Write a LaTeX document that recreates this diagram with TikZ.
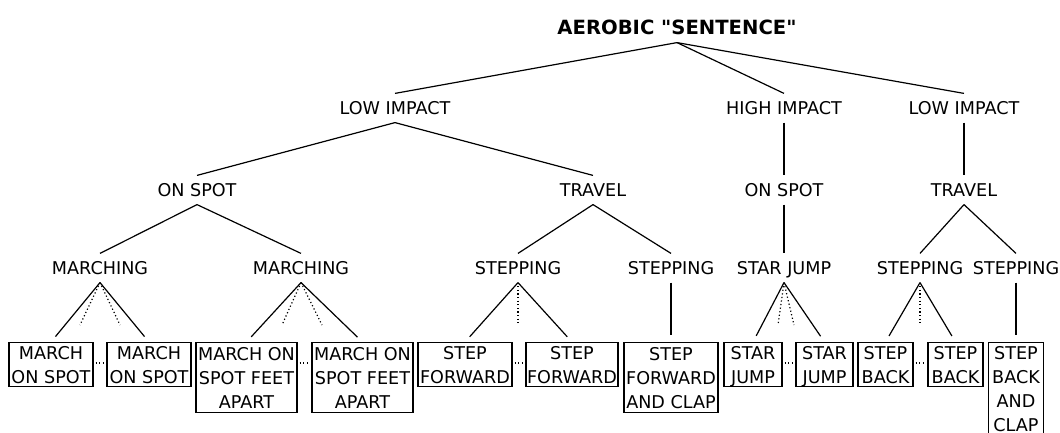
\documentclass[tikz,border=0pt]{standalone}
\usepackage{fontspec}
\setmainfont{DejaVu Sans}[Ligatures=TeXOff]

\begin{document}
\begin{tikzpicture}[x=0.5pt, y=-0.5pt, line width=0.6pt,
    head/.style={font=\fontsize{9.8}{12}\selectfont\bfseries, inner sep=0pt, minimum height=15pt},
    lbl/.style={font=\fontsize{8.8}{12}\selectfont, inner sep=0pt, text height=6.4pt, text depth=0pt, minimum height=14pt},
    leaf/.style={draw, anchor=north, align=center, font=\fontsize{8.8}{12}\selectfont, inner sep=0pt, minimum height=22pt, minimum width=#1},
    more/.style={dash pattern=on 0.6pt off 1.2pt},
    tobox/.style={shorten >=3.5pt},
    gap/.style={dash pattern=on 0.6pt off 1.2pt, shorten >=1pt, shorten <=1pt}]
    \useasboundingbox (0,0) rectangle (1060,433);

    % Title
    \node[head] (aero) at (677,27) {AEROBIC "SENTENCE"};

    % Impact
    \node[lbl] (lowA) at (395,108) {LOW IMPACT};
    \node[lbl] (high) at (784,108) {HIGH IMPACT};
    \node[lbl] (lowB) at (964,108) {LOW IMPACT};
    \draw (aero.south) -- (lowA.north);
    \draw (aero.south) -- (high.north);
    \draw (aero.south) -- (lowB.north);

    % On spot / travel
    \node[lbl] (spotA) at (197,190) {ON SPOT};
    \node[lbl] (travA) at (593,190) {TRAVEL};
    \node[lbl] (spotB) at (784,190) {ON SPOT};
    \node[lbl] (travB) at (964,190) {TRAVEL};
    \draw (lowA.south) -- (spotA.north);
    \draw (lowA.south) -- (travA.north);
    \draw (high.south) -- (spotB.north);
    \draw (lowB.south) -- (travB.north);

    % Moves
    \node[lbl] (marA) at (100,268) {MARCHING};
    \node[lbl] (marB) at (301,268) {MARCHING};
    \node[lbl] (stpA) at (518,268) {STEPPING};
    \node[lbl] (stpB) at (671,268) {STEPPING};
    \node[lbl] (jump) at (784,268) {STAR JUMP};
    \node[lbl] (stpC) at (920,268) {STEPPING};
    \node[lbl] (stpD) at (1016,268) {STEPPING};
    \draw (spotA.south) -- (marA.north);
    \draw (spotA.south) -- (marB.north);
    \draw (travA.south) -- (stpA.north);
    \draw (travA.south) -- (stpB.north);
    \draw (spotB.south) -- (jump.north);
    \draw (travB.south) -- (stpC.north);
    \draw (travB.south) -- (stpD.north);

    % Steps
    \node[leaf=42pt] (mosA) at (51,342) {MARCH\\ON SPOT};
    \node[leaf=42pt] (mosB) at (149,342) {MARCH\\ON SPOT};
    \node[leaf=50.5pt, minimum height=35pt] (mfaA) at (246.5,342) {MARCH ON\\SPOT FEET\\APART};
    \node[leaf=50.5pt, minimum height=35pt] (mfaB) at (362.5,342) {MARCH ON\\SPOT FEET\\APART};
    \node[leaf=47pt] (sfA) at (465,342) {STEP\\FORWARD};
    \node[leaf=46pt] (sfB) at (572,342) {STEP\\FORWARD};
    \node[leaf=47pt, minimum height=35pt] (sfc) at (671,342) {STEP\\FORWARD\\AND CLAP};
    \node[leaf=29pt] (sjA) at (753,342) {STAR\\\smash{JUMP}};
    \node[leaf=28.5pt] (sjB) at (824.5,342) {STAR\\\smash{JUMP}};
    \node[leaf=27.5pt] (sbA) at (885.5,342) {STEP\\BACK};
    \node[leaf=27.5pt] (sbB) at (955.5,342) {STEP\\BACK};
    \node[leaf=27.5pt, minimum height=46pt] (sbc) at (1016,342) {STEP\\BACK\\AND\\CLAP};

    % Dotted fan ends
    \coordinate (marA1) at (80,325);
    \coordinate (marA2) at (120,325);
    \coordinate (marB1) at (282,325);
    \coordinate (marB2) at (322,325);
    \coordinate (stpA1) at (518,325);
    \coordinate (jump1) at (778,325);
    \coordinate (jump2) at (794,325);
    \coordinate (stpC1) at (920,325);

    \draw[tobox] (marA.south) -- (mosA.north);
    \draw[tobox] (marA.south) -- (mosB.north);
    \draw[more] (marA.south) -- (marA1);
    \draw[more] (marA.south) -- (marA2);
    \draw[tobox] (marB.south) -- (mfaA.north);
    \draw[tobox] (marB.south) -- (mfaB.north);
    \draw[more] (marB.south) -- (marB1);
    \draw[more] (marB.south) -- (marB2);
    \draw[tobox] (stpA.south) -- (sfA.north);
    \draw[tobox] (stpA.south) -- (sfB.north);
    \draw[more] (stpA.south) -- (stpA1);
    \draw[tobox] (stpB.south) -- (sfc.north);
    \draw[tobox] (jump.south) -- (sjA.north);
    \draw[tobox] (jump.south) -- (sjB.north);
    \draw[more] (jump.south) -- (jump1);
    \draw[more] (jump.south) -- (jump2);
    \draw[tobox] (stpC.south) -- (sbA.north);
    \draw[tobox] (stpC.south) -- (sbB.north);
    \draw[more] (stpC.south) -- (stpC1);
    \draw[tobox] (stpD.south) -- (sbc.north);

    % Dots between alike boxes
    \draw[gap] ([yshift=-10.5pt]mosA.north east) -- ([yshift=-10.5pt]mosB.north west);
    \draw[gap] ([yshift=-10.5pt]mfaA.north east) -- ([yshift=-10.5pt]mfaB.north west);
    \draw[gap] ([yshift=-10.5pt]sfA.north east) -- ([yshift=-10.5pt]sfB.north west);
    \draw[gap] ([yshift=-10.5pt]sjA.north east) -- ([yshift=-10.5pt]sjB.north west);
    \draw[gap] ([yshift=-10.5pt]sbA.north east) -- ([yshift=-10.5pt]sbB.north west);
\end{tikzpicture}
\end{document}
